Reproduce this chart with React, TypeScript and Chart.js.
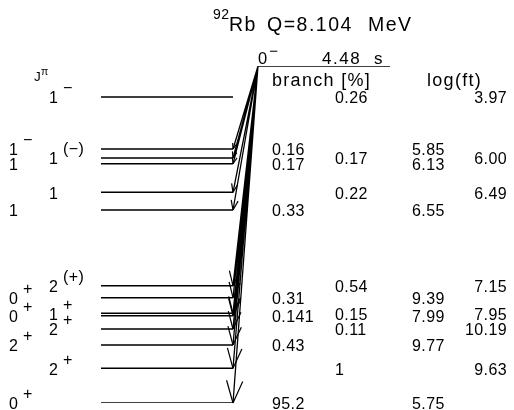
import { useEffect, useRef } from "react";
import { Chart, registerables } from "chart.js";

Chart.register(...registerables);

// ---------- data ----------
const NUCLIDE_MASS = "92";
const NUCLIDE = "Rb";
const Q_VALUE_MEV = "8.104";
const Q_KEV = 8104;
const PARENT_SPIN = "0";
const PARENT_PARITY = "−";
const HALF_LIFE = "4.48";
const HALF_LIFE_UNIT = "s";

// daughter levels (keV), highest first
const LEVEL_ENERGIES = [7358, 6108, 5892, 5754, 5067, 4641, 2821, 2532, 2157, 2099, 1779, 1395, 834, 0];
const LEVEL_SPIN = ["1", "1", "1", "1", "1", "1", "2", "0", "1", "0", "2", "2", "2", "0"];
const LEVEL_PARITY = ["−", "−", "(−)", "", "", "", "(+)", "+", "+", "+", "+", "+", "+", "+"];
const BRANCH = ["0.26", "0.16", "0.17", "0.17", "0.22", "0.33", "0.54", "0.31", "0.15", "0.141", "0.11", "0.43", "1", "95.2"];
const LOGFT = ["3.97", "5.85", "6.00", "6.13", "6.49", "6.55", "7.15", "9.39", "7.95", "7.99", "10.19", "9.77", "9.63", "5.75"];
const ARROW_DRAWN = [false, true, true, true, true, true, true, true, true, true, true, true, true, true];

// ---------- layout (x in canvas-like units) ----------
const LEVEL_X0 = 101;
const LEVEL_X1 = 233;
const PARENT_X0 = 258;
const PARENT_X1 = 390;
const FONT = "'Liberation Sans', Arial, sans-serif";

const decorPlugin = {
  id: "decor",
  afterDatasetsDraw(chart: any) {
    const { ctx, scales } = chart;
    const xs = scales.x;
    const ys = scales.y;
    ctx.save();
    ctx.fillStyle = "#000";
    ctx.strokeStyle = "#000";
    ctx.lineWidth = 1.2;

    // arrowheads
    const px0 = xs.getPixelForValue(PARENT_X0);
    const py0 = ys.getPixelForValue(Q_KEV);
    LEVEL_ENERGIES.forEach((e, i) => {
      if (!ARROW_DRAWN[i]) return;
      const tx = xs.getPixelForValue(LEVEL_X1);
      const ty = ys.getPixelForValue(e);
      const dx = px0 - tx;
      const dy = py0 - ty;
      const len = Math.hypot(dx, dy);
      const ux = dx / len;
      const uy = dy / len;
      const h = 0.07 * len;
      const a = (20 * Math.PI) / 180;
      for (const s of [1, -1]) {
        const c = Math.cos(s * a);
        const sn = Math.sin(s * a);
        const rx = ux * c - uy * sn;
        const ry = ux * sn + uy * c;
        ctx.beginPath();
        ctx.moveTo(tx, ty);
        ctx.lineTo(tx + rx * h, ty + ry * h);
        ctx.stroke();
      }
    });

    const text = (
      s: string,
      x: number,
      y: number,
      size: number,
      spacing = 0,
      base: CanvasTextBaseline = "middle"
    ) => {
      ctx.font = `${size}px ${FONT}`;
      (ctx as any).letterSpacing = `${spacing}px`;
      ctx.textBaseline = base;
      ctx.textAlign = "left";
      ctx.fillText(s, x, y);
      return ctx.measureText(s).width;
    };

    // title
    text(NUCLIDE_MASS, 213, 15, 14, 0.5);
    text(NUCLIDE, 229, 31, 19.5, 1.5, "alphabetic");
    text(`Q=${Q_VALUE_MEV}`, 267, 31, 19.5, 1.5, "alphabetic");
    text("MeV", 368, 31, 19.5, 1.5, "alphabetic");

    // parent
    const pw = text(PARENT_SPIN, 258, 64, 16.5, 0, "alphabetic");
    text(PARENT_PARITY, 258 + pw + 2, 52, 15);
    text(HALF_LIFE, 322, 64, 17, 1.5, "alphabetic");
    text(HALF_LIFE_UNIT, 374, 64, 17, 0, "alphabetic");

    // headers
    text("branch [%]", 272, 81, 18, 1.3);
    text("log(ft)", 427, 81, 18, 1.3);
    text("J", 34, 77, 13.5);
    text("π", 41, 72, 10.5);

    // level labels
    LEVEL_ENERGIES.forEach((e, i) => {
      const y = ys.getPixelForValue(e);
      const col = i % 2 === 0 ? 1 : 0;
      const sx = col === 1 ? 49 : 9;
      const w = text(LEVEL_SPIN[i], sx, y + 2, 16);
      if (LEVEL_PARITY[i]) text(LEVEL_PARITY[i], sx + w + 5, y - 8, 16, 0.5);
      const bx = col === 1 ? 335 : 272;
      text(BRANCH[i], bx, y + 2, 16, 0.4);
      ctx.font = `16px ${FONT}`;
      (ctx as any).letterSpacing = "0.4px";
      const lw = ctx.measureText(LOGFT[i]).width;
      const lx = col === 1 ? Math.min(477, 507 - lw) : 412;
      text(LOGFT[i], lx, y + 2, 16, 0.4);
    });
    ctx.restore();
  },
};

export default function App() {
  const ref = useRef<HTMLCanvasElement | null>(null);
  useEffect(() => {
    if (!ref.current) return;
    const levelData: any[] = [];
    LEVEL_ENERGIES.forEach((e) => {
      levelData.push({ x: LEVEL_X0, y: e }, { x: LEVEL_X1, y: e }, { x: LEVEL_X1, y: null });
    });
    const arrowData: any[] = [];
    LEVEL_ENERGIES.forEach((e, i) => {
      if (!ARROW_DRAWN[i]) return;
      arrowData.push({ x: PARENT_X0, y: Q_KEV }, { x: LEVEL_X1, y: e }, { x: LEVEL_X1, y: null });
    });
    const chart = new Chart(ref.current, {
      type: "line",
      data: {
        datasets: [
          { label: "levels", data: levelData, borderColor: "#000", borderWidth: 1.5, pointRadius: 0, spanGaps: false },
          {
            label: "parent",
            data: [
              { x: PARENT_X0, y: Q_KEV },
              { x: PARENT_X1, y: Q_KEV },
            ],
            borderColor: "#000",
            borderWidth: 1.5,
            pointRadius: 0,
          },
          { label: "transitions", data: arrowData, borderColor: "#000", borderWidth: 1.3, pointRadius: 0, spanGaps: false },
        ],
      },
      options: {
        animation: false,
        responsive: true,
        maintainAspectRatio: false,
        devicePixelRatio: 1,
        layout: { padding: { top: 66, bottom: 7, left: 0, right: 0 } },
        plugins: { legend: { display: false }, tooltip: { enabled: false }, title: { display: false } },
        scales: {
          x: { type: "linear", min: 0, max: 514, display: false },
          y: { type: "linear", min: 0, max: Q_KEV, display: false },
        },
        elements: { line: { tension: 0 } },
        events: [],
      },
      plugins: [decorPlugin],
    });
    return () => chart.destroy();
  }, []);
  return (
    <div style={{ position: "fixed", left: 0, top: 0, width: 514, height: 410, background: "#fff" }}>
      <canvas ref={ref} />
    </div>
  );
}
